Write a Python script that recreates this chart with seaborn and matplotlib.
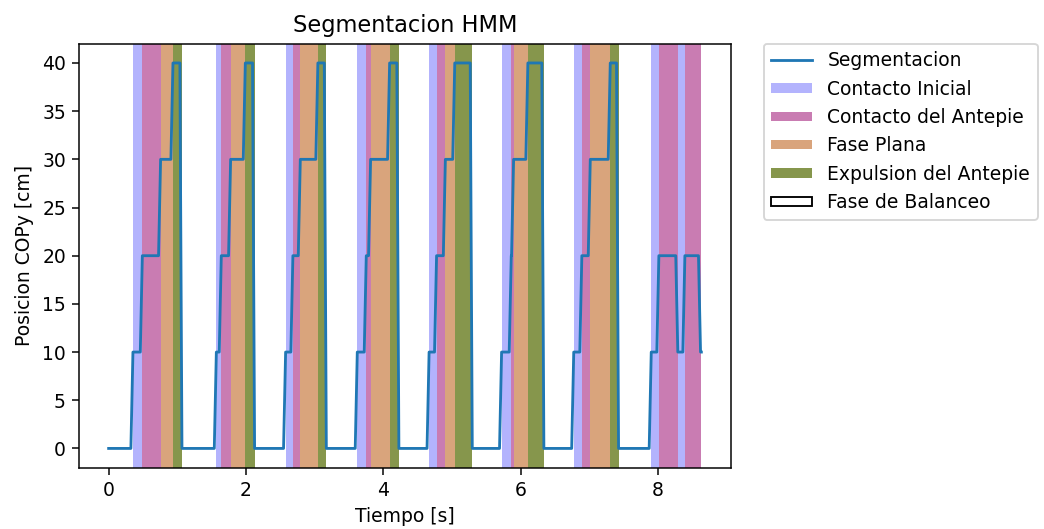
import numpy as np
import pandas as pd
import matplotlib
matplotlib.use("Agg")
import matplotlib.pyplot as plt
import matplotlib.patches as mpatches
from matplotlib.lines import Line2D
import seaborn as sns

# Start time [s] of each segmented gait phase and the COPy level assigned to it
seg_start = [0.000, 0.354, 0.491, 0.757, 0.937,
             1.068, 1.569, 1.641, 1.777, 1.991,
             2.126, 2.578, 2.684, 2.792, 3.048,
             3.171, 3.622, 3.753, 3.816, 4.093,
             4.228, 4.668, 4.777, 4.905, 5.042,
             5.297, 5.724, 5.865, 5.899, 6.107,
             6.340, 6.775, 6.893, 7.016, 7.307,
             7.428, 7.904, 8.015, 8.291, 8.394,
             8.622]
seg_level = [0, 10, 20, 30, 40,
             0, 10, 20, 30, 40,
             0, 10, 20, 30, 40,
             0, 10, 20, 30, 40,
             0, 10, 20, 30, 40,
             0, 10, 20, 30, 40,
             0, 10, 20, 30, 40,
             0, 10, 20, 10, 20,
             10]
t_end = 8.634
sample_dt = 0.03

phase_names = {0: "Fase de Balanceo", 10: "Contacto Inicial", 20: "Contacto del Antepie",
               30: "Fase Plana", 40: "Expulsion del Antepie"}
phase_colors = {10: "#b3b3fd", 20: "#c97cb2", 30: "#d9a47c", 40: "#86964c"}

# Sampled segmentation signal: hold each level, switch within one sample
t_pts, y_pts = [], []
for i, (s, lv) in enumerate(zip(seg_start, seg_level)):
    t_pts.append(s)
    y_pts.append(lv)
    nxt = seg_start[i + 1] if i + 1 < len(seg_start) else t_end
    hold_end = nxt - sample_dt if i + 1 < len(seg_start) else t_end
    if hold_end > s:
        t_pts.append(hold_end)
        y_pts.append(lv)
df = pd.DataFrame({"t": t_pts, "y": y_pts})

plt.rcParams["font.family"] = ["DejaVu Sans"]
dpi = 135
fig = plt.figure(figsize=(1044 / dpi, 529 / dpi), dpi=dpi)
ax = fig.add_axes([79 / 1044, 1 - 467.7 / 529, (731 - 79) / 1044, (467.7 - 43.7) / 529])

ends = seg_start[1:] + [t_end]
for s, e, lv in zip(seg_start, ends, seg_level):
    if lv in phase_colors:
        ax.axvspan(s, e, facecolor=phase_colors[lv], edgecolor="none", lw=0, zorder=1)

sns.lineplot(data=df, x="t", y="y", ax=ax, estimator=None, sort=False,
             color="#1f77b4", lw=1.5, zorder=3)

ax.set_xlim(-0.05 * t_end, t_end * 1.05)
ax.set_ylim(-2, 42)
ax.set_xticks([0, 2, 4, 6, 8])
ax.set_yticks(np.arange(0, 41, 5))
ax.set_title("Segmentacion HMM", fontsize=12)
ax.set_xlabel("Tiempo [s]")
ax.set_ylabel("Posicion COPy [cm]")

handles = [Line2D([0], [0], color="#1f77b4", lw=1.5)]
labels = ["Segmentacion"]
for lv in (10, 20, 30, 40):
    handles.append(mpatches.Patch(facecolor=phase_colors[lv], edgecolor="none"))
    labels.append(phase_names[lv])
handles.append(mpatches.Patch(facecolor="white", edgecolor="black", lw=1.0))
labels.append(phase_names[0])
ax.legend(handles, labels, loc="upper left", bbox_to_anchor=(1.05, 1.0),
          borderaxespad=0, handleheight=0.4, handlelength=2.2)

fig.savefig("out.png", dpi=dpi)
